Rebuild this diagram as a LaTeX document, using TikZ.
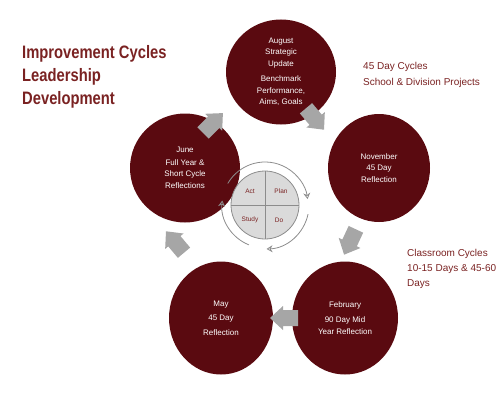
\documentclass[tikz,border=0pt]{standalone}
\usepackage{fontspec}
\setmainfont{Liberation Sans}
\newfontfamily\titlefont[FakeStretch=0.82]{Liberation Sans}
\usetikzlibrary{shapes.geometric,arrows.meta}
\definecolor{monthred}{HTML}{5A0A10}
\definecolor{notered}{HTML}{7A2222}
\definecolor{arrowgray}{HTML}{A6A6A6}
\definecolor{pdcagray}{HTML}{8C8C8C}
\definecolor{pdcafill}{HTML}{DADADA}

\tikzset{
  blockarrow/.pic={
    \fill[arrowgray] (-14,-8) -- (1,-8) -- (1,-12) -- (14,0) -- (1,12) -- (1,8) -- (-14,8) -- cycle;
  }
}

\begin{document}
\begin{tikzpicture}[x=1pt, y=1pt, align=center]
  \tikzstyle{month} = [ellipse, fill=monthred, text=white, inner sep=0pt, font=\fontsize{8}{11.5}\selectfont]
  \tikzstyle{note} = [anchor=north west, align=left, text=notered, inner sep=0pt]
  \tikzstyle{quarter} = [text=notered, font=\fontsize{6.5}{7}\selectfont]
  \tikzstyle{turn} = [draw=pdcagray, line width=0.8pt, -{Stealth[open, length=6pt, width=7pt]}]

  \useasboundingbox (0,0) rectangle (500,400);

  % headings
  \node[note, font=\titlefont\bfseries\fontsize{18}{23}\selectfont] (title) at (22,355) {Improvement Cycles\\Leadership\\Development};
  \node[note, font=\fontsize{10}{16}\selectfont] (schoolnote) at (363,337.5) {45 Day Cycles\\School \& Division Projects};
  \node[note, font=\fontsize{10}{15}\selectfont] (classnote) at (407,150.5) {Classroom Cycles\\10-15 Days \& 45-60\\Days};

  % the five reflection points
  \node[month, minimum width=110pt, minimum height=105pt] (aug) at (281,328) {August\\Strategic\\Update\\[4pt]Benchmark\\Performance,\\Aims, Goals};
  \node[month, minimum width=102pt, minimum height=108pt] (nov) at (379,232) {November\\45 Day\\Reflection};
  \node[month, minimum width=106pt, minimum height=113pt] (feb) at (345,82) {February\\[4pt]90 Day Mid\\Year Reflection};
  \node[month, minimum width=104pt, minimum height=113pt] (may) at (221,82) {May\\[3pt]45 Day\\[3pt]Reflection};
  \node[month, minimum width=110pt, minimum height=109pt] (jun) at (185,232) {June\\[1pt]Full Year \&\\Short Cycle\\Reflections};

  % arrows between them
  \pic[rotate=45] (junaug) at (213,277) {blockarrow};
  \pic[rotate=-50] (augnov) at (315,281) {blockarrow};
  \pic[rotate=-115] (novfeb) at (350,158) {blockarrow};
  \pic[rotate=180] (febmay) at (284,82) {blockarrow};
  \pic[rotate=130] (mayjun) at (175,158) {blockarrow};

  % PDCA wheel
  \node[circle, draw=pdcagray, fill=pdcafill, line width=0.8pt, minimum size=68pt] (pdca) at (265,195) {};
  \draw[pdcagray, line width=1pt] (pdca.north) -- (pdca.south);
  \draw[pdcagray, line width=1pt] (pdca.west) -- (pdca.east);
  \node[quarter] (act) at (250,209) {Act};
  \node[quarter] (plan) at (281,209) {Plan};
  \node[quarter] (study) at (250,180) {Study};
  \node[quarter] (do) at (279,180) {Do};

  \draw[turn] (pdca.center) ++(150:43) arc[start angle=150, end angle=8, radius=43];
  \draw[turn] (pdca.center) ++(-12:44) arc[start angle=-12, end angle=-88, radius=44];
  \draw[turn] (pdca.center) ++(-112:43) arc[start angle=-112, end angle=-186, radius=43];
\end{tikzpicture}
\end{document}
